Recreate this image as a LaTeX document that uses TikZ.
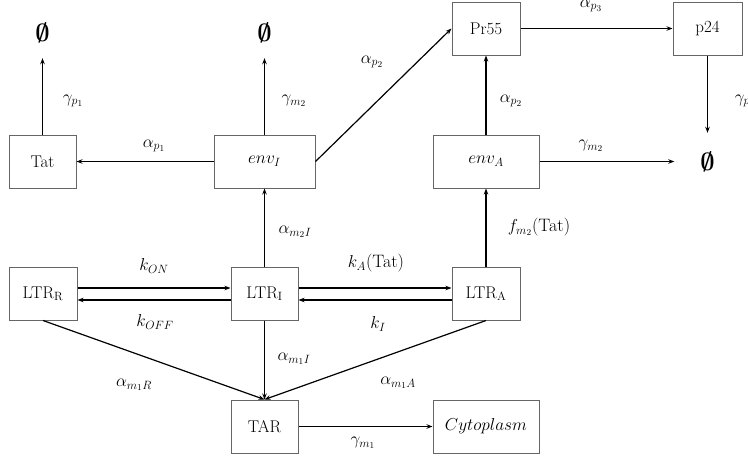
\documentclass[tikz,border=0pt]{standalone}
\usetikzlibrary{arrows.meta}
\begin{document}
\begin{tikzpicture}[x=1pt,y=-1pt,
  box/.style={draw=black!60,line width=1pt,minimum height=53pt,inner sep=0pt,font=\fontsize{17}{20}\selectfont},
  arr/.style={draw=black,line width=1.2pt,-{Stealth[length=6pt,width=4.5pt]}},
  lbl/.style={inner sep=0pt,font=\fontsize{18}{21}\selectfont},
  nul/.style={inner sep=0pt,minimum width=66pt,font=\fontsize{44}{44}\selectfont\boldmath}]
\useasboundingbox (0,0) rectangle (748,459);
% boxes
\node[box,minimum width=67pt]  (Tat)  at (42.5,161.5) {Tat};
\node[box,minimum width=101pt] (envI) at (264.5,161.5) {$env_I$};
\node[box,minimum width=68pt]  (Pr55) at (486,28.5) {Pr55};
\node[box,minimum width=69pt]  (p24)  at (707.5,28.5) {p24};
\node[box,minimum width=106pt] (envA) at (486,161.5) {$env_A$};
\node[box,minimum width=68pt]  (LTRR) at (43,293.5) {LTR$_\mathrm{R}$};
\node[box,minimum width=67pt]  (LTRI) at (264.5,293.5) {LTR$_\mathrm{I}$};
\node[box,minimum width=68pt]  (LTRA) at (486,293.5) {LTR$_\mathrm{A}$};
\node[box,minimum width=67pt]  (TAR)  at (264.5,426.5) {TAR};
\node[box,minimum width=106pt] (Cyto) at (486,426.5) {$Cytoplasm$};
% empty sets
\node[nul,minimum height=50pt] (n1) at (42.5,33) {$\emptyset$};
\node[nul,minimum height=50pt] (n2) at (264.5,33) {$\emptyset$};
\node[nul,minimum height=58pt] (n3) at (707.5,162) {$\emptyset$};
% arrows
\draw[arr] (Tat.north) -- (n1.south);
\draw[arr] (envI.north) -- (n2.south);
\draw[arr] (envI.west) -- (Tat.east);
\draw[arr] (envI.east) -- (Pr55.west);
\draw[arr] (Pr55.east) -- (p24.west);
\draw[arr] (envA.north) -- (Pr55.south);
\draw[arr] (p24.south) -- (n3.north);
\draw[arr] (envA.east) -- (envA.east -| n3.west);
\draw[arr] (LTRI.north) -- (envI.south);
\draw[arr] (LTRA.north) -- (envA.south);
\draw[arr] ([yshift=5.5pt]LTRR.east) -- ([yshift=5.5pt]LTRI.west);
\draw[arr] ([yshift=-6.5pt]LTRI.west) -- ([yshift=-6.5pt]LTRR.east);
\draw[arr] ([yshift=5.5pt]LTRI.east) -- ([yshift=5.5pt]LTRA.west);
\draw[arr] ([yshift=-6.5pt]LTRA.west) -- ([yshift=-6.5pt]LTRI.east);
\draw[arr] (LTRR.south) -- (TAR.north);
\draw[arr] (LTRI.south) -- (TAR.north);
\draw[arr] (LTRA.south) -- (TAR.north);
\draw[arr] (TAR.east) -- (Cyto.west);
% labels
\node[lbl] (l1)  at (73,101) {$\gamma_{p_1}$};
\node[lbl] (l2)  at (294,101) {$\gamma_{m_2}$};
\node[lbl] (l3)  at (154,146) {$\alpha_{p_1}$};
\node[lbl] (l4)  at (372,62) {$\alpha_{p_2}$};
\node[lbl] (l5)  at (591,6) {$\alpha_{p_3}$};
\node[lbl] (l6)  at (511,101) {$\alpha_{p_2}$};
\node[lbl] (l7)  at (745,101) {$\gamma_{p_2}$};
\node[lbl] (l8)  at (591,146) {$\gamma_{m_2}$};
\node[lbl] (l9)  at (295,232) {$\alpha_{m_2I}$};
\node[lbl] (l10) at (539,227) {$f_{m_2}$(Tat)};
\node[lbl] (l11) at (154,266) {$k_{ON}$};
\node[lbl] (l12) at (155,322) {$k_{OFF}$};
\node[lbl] (l13) at (376,263) {$k_A$(Tat)};
\node[lbl] (l14) at (378,324) {$k_I$};
\node[lbl] (l15) at (294,359) {$\alpha_{m_1I}$};
\node[lbl] (l16) at (134,385) {$\alpha_{m_1R}$};
\node[lbl] (l17) at (398,383) {$\alpha_{m_1A}$};
\node[lbl] (l18) at (363,443) {$\gamma_{m_1}$};
\end{tikzpicture}
\end{document}
